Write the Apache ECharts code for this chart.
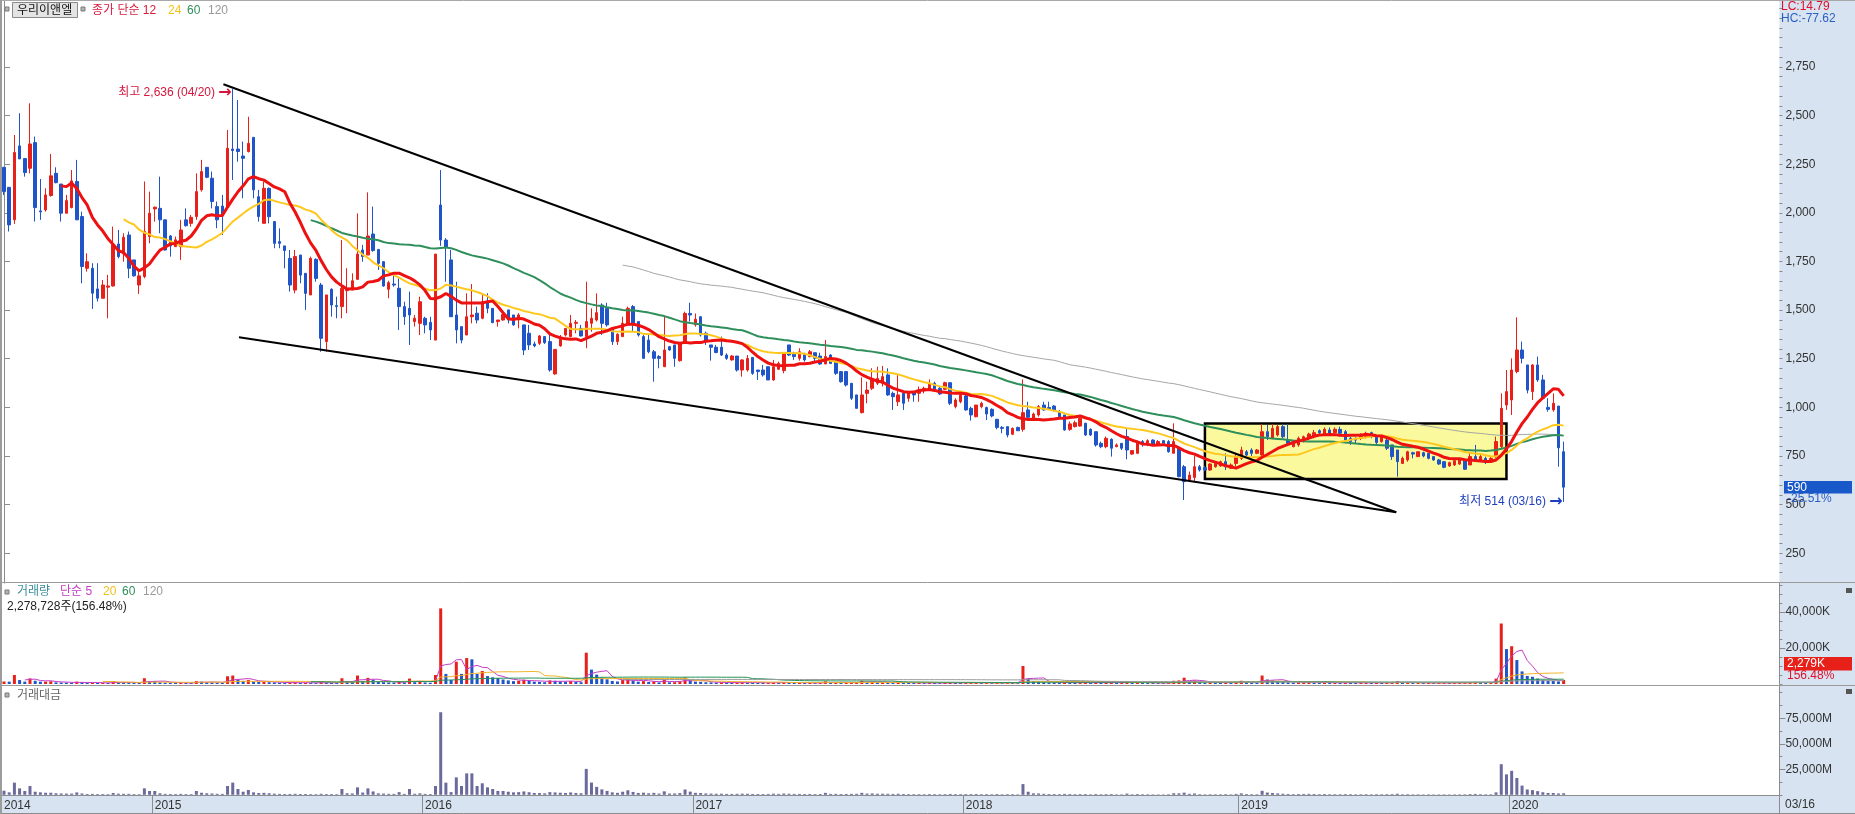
<!DOCTYPE html>
<html>
<head>
<meta charset="utf-8">
<script src="https://cdn.jsdelivr.net/npm/echarts@6/dist/echarts.min.js"></script>
<style>
html,body{margin:0;padding:0;background:#fff;}
#chart{width:1855px;height:814px;}
</style>
</head>
<body>
<div id="chart"></div>
<script>
// 우리이앤엘 주봉 (2014-06-16 ~ 2020-03-16)
const firstWeek = Date.UTC(2014, 5, 16);
const emptyWeeks = 41;          // blank space kept to the right of the last candle

// weekly candles: [open, high, low, close]
const candles = [
  [2234,2234,2092,2109],[2131,2131,1904,1938],[1964,2400,1943,2310],[2344,2512,2277,2277],[2279,2279,2186,2207],
  [2229,2563,2203,2354],[2361,2392,1955,2027],[2010,2174,1964,2005],[2015,2126,2006,2092],[2089,2303,2083,2190],
  [2203,2234,2152,2155],[2148,2148,1955,1998],[1998,2092,1998,2063],[2027,2220,2023,2164],[2161,2272,1964,1964],
  [1981,2006,1638,1724],[1715,1792,1698,1749],[1715,1741,1506,1587],[1609,1741,1544,1561],[1561,1655,1561,1629],
  [1618,1681,1458,1624],[1624,1929,1621,1835],[1840,1912,1766,1775],[1789,1895,1749,1874],[1886,1904,1664,1715],
  [1758,1758,1672,1676],[1629,1710,1583,1676],[1672,2161,1664,1904],[1878,2109,1844,1998],[2020,2032,1955,2029],
  [2023,2186,1895,1964],[1964,1964,1806,1809],[1881,1886,1775,1830],[1826,1878,1826,1861],[1826,1964,1758,1912],
  [1964,2023,1929,1934],[1946,1989,1929,1977],[1981,2203,1964,2109],[2118,2272,2109,2212],[2234,2234,2178,2183],
  [2178,2212,2023,2058],[2032,2058,1921,1964],[2035,2092,1886,1984],[2032,2426,2032,2332],[2328,2636,2169,2320],
  [2328,2580,2263,2315],[2292,2366,2075,2280],[2315,2494,2310,2357],[2388,2388,2075,2118],[2083,2118,1955,1981],
  [1946,2160,1946,2126],[2126,2130,1946,1980],[1955,1958,1818,1843],[1852,1920,1818,1843],[1830,1830,1715,1806],
  [1766,1809,1595,1629],[1603,1809,1586,1775],[1783,1783,1638,1680],[1689,1689,1501,1586],[1578,1775,1578,1766],
  [1761,1766,1646,1663],[1629,1640,1286,1355],[1338,1578,1286,1578],[1607,1612,1466,1526],[1523,1569,1458,1518],
  [1518,1860,1458,1612],[1600,1715,1484,1612],[1603,1689,1603,1651],[1658,1997,1658,1788],[1809,1835,1749,1775],
  [1783,2105,1783,1881],[1891,2032,1800,1806],[1812,1812,1706,1740],[1749,1749,1620,1624],[1607,1651,1561,1641],
  [1634,1689,1620,1629],[1612,1663,1398,1518],[1518,1543,1424,1466],[1509,1595,1321,1475],[1441,1475,1415,1458],
  [1432,1569,1372,1543],[1458,1466,1381,1424],[1437,1466,1346,1398],[1346,1788,1346,1788],[2040,2220,1830,1860],
  [1860,1870,1646,1823],[1758,1809,1466,1466],[1475,1646,1329,1398],[1415,1415,1329,1346],[1372,1586,1372,1466],
  [1466,1634,1432,1475],[1484,1518,1432,1449],[1458,1586,1453,1543],[1543,1586,1484,1509],[1509,1509,1432,1436],
  [1441,1449,1415,1449],[1449,1492,1446,1478],[1501,1501,1432,1449],[1475,1475,1420,1424],[1449,1484,1406,1475],
  [1424,1424,1269,1295],[1381,1424,1295,1321],[1326,1338,1309,1316],[1329,1372,1321,1367],[1364,1364,1326,1333],
  [1338,1381,1184,1192],[1172,1298,1167,1298],[1316,1372,1312,1350],[1372,1406,1364,1406],[1364,1475,1360,1432],
  [1432,1449,1381,1437],[1406,1424,1364,1367],[1364,1646,1304,1441],[1432,1509,1389,1458],[1449,1586,1441,1487],
  [1526,1535,1372,1432],[1509,1538,1415,1424],[1406,1406,1321,1338],[1338,1381,1321,1376],[1364,1466,1364,1432],
  [1423,1518,1423,1509],[1518,1526,1389,1432],[1441,1441,1364,1372],[1364,1372,1252,1252],[1346,1372,1278,1286],
  [1286,1295,1132,1252],[1261,1269,1201,1252],[1209,1466,1209,1295],[1312,1316,1291,1295],[1321,1321,1209,1252],
  [1240,1329,1235,1329],[1338,1492,1333,1483],[1483,1538,1441,1475],[1424,1483,1415,1453],[1466,1466,1364,1372],
  [1381,1389,1321,1338],[1321,1321,1240,1309],[1309,1321,1278,1282],[1309,1364,1264,1269],[1269,1278,1244,1252],
  [1244,1269,1240,1264],[1264,1264,1184,1192],[1192,1247,1158,1244],[1192,1269,1184,1252],[1257,1257,1167,1175],
  [1192,1192,1141,1184],[1192,1218,1158,1167],[1209,1209,1141,1141],[1141,1244,1137,1209],[1196,1235,1192,1226],
  [1189,1278,1175,1278],[1321,1321,1264,1269],[1278,1286,1244,1261],[1252,1304,1240,1286],[1278,1278,1235,1244],
  [1261,1295,1257,1286],[1281,1281,1230,1252],[1264,1281,1218,1223],[1223,1346,1223,1261],[1269,1274,1223,1226],
  [1235,1240,1167,1175],[1184,1184,1127,1132],[1184,1184,1107,1115],[1124,1124,1038,1047],[1064,1064,995,995],
  [973,1154,969,1064],[1072,1132,1021,1089],[1098,1201,1089,1149],[1124,1209,1115,1149],[1124,1213,1107,1158],
  [1167,1201,1059,1064],[1072,1081,987,1055],[1029,1166,1007,1064],[1072,1072,987,1021],[1047,1081,1029,1072],
  [1076,1081,1029,1064],[1072,1107,1029,1089],[1086,1107,1072,1098],[1093,1144,1089,1120],[1124,1132,1089,1093],
  [1098,1107,1064,1069],[1093,1132,1089,1127],[1127,1127,1012,1021],[1004,1047,995,1038],[1029,1072,1021,1064],
  [1059,1064,983,987],[995,1004,932,961],[952,1012,949,1012],[1004,1029,995,1021],[999,1004,935,966],
  [990,995,949,956],[939,939,887,897],[897,904,867,892],[901,901,846,858],[862,897,858,892],
  [897,901,880,880],[887,1144,875,973],[987,1029,944,949],[944,973,935,966],[961,1012,952,1004],
  [1012,1029,983,987],[1000,1029,987,992],[1007,1012,978,987],[978,987,949,952],[961,961,880,884],
  [887,927,880,915],[901,932,897,921],[904,949,901,944],[918,921,853,858],[887,892,853,858],
  [875,875,798,807],[815,824,790,798],[798,850,790,841],[836,841,747,790],[798,815,795,807],
  [815,815,781,790],[850,892,733,781],[760,781,755,778],[764,829,760,824],[824,832,798,815],
  [815,836,801,829],[832,836,801,807],[807,832,803,824],[829,832,803,815],[824,832,767,772],
  [764,918,764,824],[790,790,640,644],[695,704,524,618],[627,670,618,652],[640,752,613,695],
  [695,704,670,678],[690,699,672,678],[678,712,675,709],[695,718,690,712],[699,726,695,721],
  [721,764,678,695],[687,712,683,704],[712,764,695,747],[738,798,730,781],[772,781,750,755],
  [781,790,750,764],[764,786,760,781],[755,915,747,875],[875,910,832,849],[841,915,836,892],
  [858,910,850,901],[901,915,841,849],[832,915,807,815],[798,832,795,824],[807,850,798,841],
  [824,855,820,849],[841,870,832,863],[850,884,841,870],[880,887,863,870],[863,897,858,887],
  [884,897,856,863],[870,897,863,887],[887,901,850,867],[875,884,824,832],[841,850,807,824],
  [841,846,815,832],[841,867,832,858],[846,875,841,867],[870,875,841,850],[850,853,812,819],
  [824,850,819,846],[832,841,781,790],[807,807,730,747],[781,781,644,721],[712,747,709,738],
  [730,777,721,772],[767,772,738,760],[747,772,747,772],[767,772,743,750],[764,767,733,738],
  [747,750,725,730],[730,735,704,709],[721,721,687,692],[699,721,695,716],[704,730,699,726],
  [709,738,704,730],[730,730,678,682],[704,764,704,747],[747,807,721,730],[730,760,721,747],
  [738,747,709,716],[721,747,716,738],[747,850,738,824],[798,1072,790,995],[1012,1192,987,1081],
  [1038,1252,961,1192],[1184,1463,1175,1295],[1295,1338,1226,1252],[1218,1218,1072,1089],[1081,1222,1038,1218],
  [1218,1261,1132,1141],[1141,1167,1038,1047],[1000,1047,978,990],[987,1072,978,1021],[1007,1007,695,792],
  [772,824,514,590]
];

// weekly volume, thousand shares
const volumesK = [
  1400,1300,5000,2200,1300,3100,1800,1300,1350,1500,
  900,800,750,700,1300,900,650,700,600,620,
  580,1500,900,800,750,600,550,3200,1600,1500,
  1000,700,650,600,750,550,520,1600,1300,1000,
  850,700,650,4300,4700,2400,1700,2300,1400,1100,
  1300,1000,850,700,650,700,850,650,700,550,
  500,1000,700,650,550,3200,1300,1100,4700,1700,
  3400,2400,1100,1000,850,800,1500,850,3000,1000,
  1300,850,700,5000,42000,5600,2300,12400,5600,14400,
  13700,5600,7200,4400,3700,3300,2500,2000,1600,1800,
  2400,1900,1300,1200,1000,2000,1800,1500,1300,1600,
  1200,1000,17400,8000,5200,3600,2600,1700,1400,2200,
  3000,1900,1300,1600,1100,1500,900,2600,950,1000,
  1300,3600,2100,1300,1200,950,900,800,850,700,
  650,800,900,850,700,650,600,700,900,750,
  1000,800,650,700,600,650,550,600,1500,700,
  800,700,750,900,1000,1800,1100,1200,900,950,
  900,800,1000,700,600,550,600,500,650,550,
  500,600,800,650,600,700,750,800,600,650,
  550,800,600,700,650,500,10000,3000,1500,1300,
  1000,800,700,650,1000,800,700,750,800,600,
  900,700,800,900,550,600,1500,700,900,650,
  600,550,500,480,700,1800,2000,3500,1500,2000,
  900,700,800,750,700,900,650,1200,1800,900,
  800,700,4700,2500,2000,1500,1200,1000,800,900,
  1000,1100,900,700,800,650,700,650,800,700,
  600,650,700,600,700,650,800,900,1500,700,
  800,600,650,550,600,500,600,650,550,600,
  650,700,1000,1200,800,700,750,3000,33600,19400,
  21000,13300,7000,4500,4000,3000,2300,1800,1700,1456.242,
  2278.728
];

// weekly trading value, million won
const tradeValuesM = [
  4000,2400,11900,6300,3700,8600,3000,2400,2000,2000,
  1500,1300,1200,1200,2300,1300,800,900,700,700,
  650,1800,1100,1000,950,700,600,6300,3700,3700,
  1500,900,800,700,950,700,650,3700,2000,1500,
  1300,1000,900,8600,11900,5700,3000,4700,2400,1700,
  1900,1500,1100,900,800,850,1000,800,800,650,
  600,1000,700,700,600,5700,1500,1300,7300,2200,
  6300,3300,1400,1200,950,900,2600,900,5700,1000,
  1400,900,700,8600,80900,11900,2600,17100,8600,21000,
  21000,8600,11300,7300,5700,3800,3700,3000,2400,2600,
  3300,2500,1800,1700,1400,2600,2300,2000,1800,2300,
  1800,1500,25400,12000,7800,5300,3800,2400,1900,3000,
  4400,2800,1800,2100,1450,1900,1200,3400,1250,1300,
  1650,5200,3100,1900,1700,1300,1200,1050,1100,900,
  850,1000,1100,1050,850,800,750,850,1100,900,
  1250,1050,850,900,750,850,700,750,1900,900,
  950,800,850,950,1000,1900,1200,1350,1050,1100,
  1000,850,1050,750,650,600,650,550,700,600,
  550,650,850,650,650,700,700,800,600,650,
  550,720,540,620,580,450,10500,3000,1450,1300,
  1000,800,700,640,900,720,640,700,700,520,
  750,560,650,720,440,480,1200,540,720,530,
  500,450,410,390,550,1500,1400,2100,950,1300,
  620,480,560,530,500,640,460,870,1380,690,
  620,550,3900,2200,1750,1350,1030,830,650,740,
  840,940,790,610,700,560,610,560,680,580,
  500,550,600,520,580,550,650,690,1050,510,
  600,460,490,410,450,370,430,450,390,430,
  470,500,720,880,590,510,550,2350,30000,20000,
  23500,16500,9000,5200,4600,3600,2500,1800,1750,1300,
  1500
];

// right-axis tick values
const priceTicks = [250, 500, 750, 1000, 1250, 1500, 1750, 2000, 2250, 2500, 2750];
const volumeTicksK = [20000, 40000];
const valueTicksM = [25000, 50000, 75000];

// moving-average periods
const priceMAs = [12, 24, 60, 120];
const volumeMAs = [5, 20, 60, 120];

// drawn annotations: [week index, price] end points
const trendLines = [
  [[42.2, 2661], [267.8, 461]],
  [[45.2, 1360], [267.8, 461]]
];
// highlighted consolidation box: first / last week index, top / bottom price
const boxWeeks = [231, 289];
const boxPrices = [917, 632];

const UP = '#e8201a', DOWN = '#1f55c8';
const FONT = '"Liberation Sans", "Noto Sans CJK KR", sans-serif';

// ---- derived helpers ----
const dayMs = 86400000;
const totalSlots = candles.length + emptyWeeks;
const weeks = [];
for (let i = 0; i < totalSlots; i++) {
  weeks.push(new Date(firstWeek + i * 7 * dayMs).toISOString().slice(0, 10));
}
const isYearStart = i => i === 0 || weeks[i].slice(0, 4) !== weeks[i - 1].slice(0, 4);
const fmt = v => Math.round(v).toLocaleString('en-US');

function sma(arr, n) {
  return arr.map((_, i) => {
    if (i < n - 1) return '-';
    let s = 0;
    for (let j = i - n + 1; j <= i; j++) s += arr[j];
    return +(s / n).toFixed(2);
  });
}

const closes = candles.map(c => c[3]);
const last = candles.length - 1;
let hiIdx = 0, loIdx = 0;
candles.forEach((c, i) => {
  if (c[1] > candles[hiIdx][1]) hiIdx = i;
  if (c[2] < candles[loIdx][2]) loIdx = i;
});
const hiVal = candles[hiIdx][1], loVal = candles[loIdx][2];
const lastClose = closes[last];
const chg = (lastClose / closes[last - 1] - 1) * 100;
const lc = (lastClose / loVal - 1) * 100;
const hc = (lastClose / hiVal - 1) * 100;
const lastVol = volumesK[last];
const volPct = lastVol / volumesK[last - 1] * 100;
const mmdd = i => weeks[i].slice(5).replace('-', '/');

const maColors = { 12: '#ee1111', 24: '#ffc81e', 60: '#2f8f5b', 120: '#a6a6a6' };
const maWidths = { 12: 3, 24: 2, 60: 2, 120: 1 };
const vmaColors = { 5: '#c63cc6', 20: '#f0b428', 60: '#23935a', 120: '#9a9a9a' };

const volumeData = volumesK.map((v, i) => ({
  value: v,
  itemStyle: { color: (i === 0 || v >= volumesK[i - 1]) ? UP : DOWN }
}));

const grids = [
  { left: 1.4, top: 1, width: 1778, height: 582, show: false },
  { left: 1.4, top: 583, width: 1778, height: 101, show: false },
  { left: 1.4, top: 685.7, width: 1778, height: 109.1, show: false }
];

function catAxis(gi, showLabels) {
  return {
    type: 'category', gridIndex: gi, data: weeks, boundaryGap: true,
    axisLine: { show: showLabels, lineStyle: { color: '#8c8c8c' } },
    axisTick: showLabels ? {
      show: true, interval: (i) => isYearStart(i), length: 19, alignWithLabel: false,
      lineStyle: { color: '#8c8c8c' }
    } : { show: false },
    axisLabel: showLabels ? {
      show: true, interval: (i) => isYearStart(i), align: 'left', margin: 5,
      color: '#333', fontSize: 12, fontFamily: FONT,
      formatter: (v) => v.slice(0, 4)
    } : { show: false },
    splitLine: { show: false }
  };
}

function rightAxis(gi, min, max, labelVals, suffix) {
  return {
    type: 'value', gridIndex: gi, position: 'right', min, max,
    splitLine: { show: false },
    axisLine: { show: true, lineStyle: { color: '#8c8c8c' } },
    axisTick: { show: true, customValues: labelVals, length: 6, lineStyle: { color: '#8c8c8c' } },
    axisLabel: {
      show: true, customValues: labelVals, color: '#333', fontSize: 12, fontFamily: FONT, margin: 6,
      formatter: v => fmt(v) + suffix
    }
  };
}
function minorAxis(gi, min, max, step) {
  const vals = [];
  for (let v = Math.ceil(min / step) * step; v <= max; v += step) vals.push(v);
  return {
    type: 'value', gridIndex: gi, position: 'right', min, max,
    splitLine: { show: false }, axisLine: { show: false },
    axisTick: { show: true, customValues: vals, length: 3, lineStyle: { color: '#8c8c8c' } },
    axisLabel: { show: false }
  };
}

const series = [];
// consolidation box
series.push({
  type: 'line', xAxisIndex: 0, yAxisIndex: 0, data: [], z: 1, silent: true,
  markArea: {
    silent: true,
    itemStyle: { color: '#fbf99e', borderColor: '#000', borderWidth: 2.5 },
    data: [[{ coord: [weeks[boxWeeks[0]], boxPrices[0]] }, { coord: [weeks[boxWeeks[1]], boxPrices[1]] }]]
  }
});
// candles with high / low notes
series.push({
  type: 'candlestick', xAxisIndex: 0, yAxisIndex: 0, z: 2, barWidth: 3,
  data: candles.map(c => [c[0], c[3], c[2], c[1]]),
  itemStyle: { color: UP, color0: DOWN, borderColor: UP, borderColor0: DOWN, borderWidth: 1 },
  markPoint: {
    symbol: 'circle', symbolSize: 0, silent: true,
    data: [
      {
        coord: [weeks[hiIdx], hiVal],
        label: {
          show: true, position: 'left', distance: 1, offset: [0, 4],
          formatter: `{t|최고 ${fmt(hiVal)} (${mmdd(hiIdx)})} {a|→}`,
          rich: {
            t: { color: '#d4163c', fontSize: 12, fontFamily: FONT },
            a: { color: '#d4163c', fontSize: 16, fontWeight: 'bold', fontFamily: '"DejaVu Sans"' }
          }
        }
      },
      {
        coord: [weeks[loIdx], loVal],
        label: {
          show: true, position: 'left', distance: 1, offset: [0, 0],
          formatter: `{t|최저 ${fmt(loVal)} (${mmdd(loIdx)})} {a|→}`,
          rich: {
            t: { color: '#1f3fbf', fontSize: 12, fontFamily: FONT },
            a: { color: '#1f3fbf', fontSize: 16, fontWeight: 'bold', fontFamily: '"DejaVu Sans"' }
          }
        }
      }
    ]
  }
});
// price moving averages (long to short so the 12-week line is on top)
const maSeriesIndex = {};
[120, 60, 24, 12].forEach((n, k) => {
  maSeriesIndex[n] = series.length;
  series.push({
    type: 'line', xAxisIndex: 0, yAxisIndex: 0, z: 3 + k, silent: true,
    data: sma(closes, n), showSymbol: false, symbol: 'none',
    lineStyle: { color: maColors[n], width: maWidths[n] }
  });
});
// trend lines
trendLines.forEach(tl => {
  series.push({
    type: 'line', xAxisIndex: 3, yAxisIndex: 0, z: 8, silent: true,
    data: tl, showSymbol: false, symbol: 'none',
    lineStyle: { color: '#000', width: 2 }
  });
});
// volume
series.push({
  type: 'bar', xAxisIndex: 1, yAxisIndex: 2, barWidth: 3, data: volumeData, silent: true
});
volumeMAs.forEach(n => {
  series.push({
    type: 'line', xAxisIndex: 1, yAxisIndex: 2, silent: true, z: 3,
    data: sma(volumesK, n), showSymbol: false, symbol: 'none',
    lineStyle: { color: vmaColors[n], width: 1 }
  });
});
// trading value
series.push({
  type: 'bar', xAxisIndex: 2, yAxisIndex: 4, barWidth: 3, silent: true,
  data: tradeValuesM, itemStyle: { color: '#6a6a9c' }
});

const T = (x, y, text, color, extra) => Object.assign({
  type: 'text', x, y, z: 60,
  style: Object.assign({ text, fill: color, font: `12px ${FONT}`, textVerticalAlign: 'middle' }, extra || {})
});
const icon = (x, y) => ({ type: 'rect', z: 60, shape: { x, y, width: 4, height: 4 }, style: { fill: '#b4b4b4', stroke: '#7a7a7a', lineWidth: 1 } });
const hline = (y, x1, x2, color) => ({ type: 'line', z: 70, shape: { x1, y1: y, x2, y2: y }, style: { stroke: color || '#9a9a9a', lineWidth: 1 } });
const vline = (x, y1, y2, color, w) => ({ type: 'line', z: 70, shape: { x1: x, y1, x2: x, y2 }, style: { stroke: color || '#9a9a9a', lineWidth: w || 1 } });
const closeBox = (x, y) => ({ type: 'rect', z: 60, shape: { x, y, width: 6, height: 5 }, style: { fill: '#555' } });

const graphics = [
  // axis strips
  { type: 'rect', z: -1, shape: { x: 1779.4, y: 0, width: 76, height: 814 }, style: { fill: '#d7e3f0' } },
  { type: 'rect', z: -1, shape: { x: 0, y: 795, width: 1780, height: 19 }, style: { fill: '#d7e3f0' } },
  // panel frames
  hline(0.5, 0, 1855, '#a8a8a8'),
  hline(582.5, 0, 1855), hline(685.5, 0, 1855),
  hline(813.5, 0, 1855, '#8c8c8c'),
  vline(1, 0, 814, '#9c9c9c', 2),
  vline(1779.5, 795, 814, '#8c8c8c'),
  // main panel header
  icon(5, 7),
  { type: 'rect', z: 60, shape: { x: 12.5, y: 2.5, width: 65, height: 15 }, style: { fill: '#e4e4e4', stroke: '#8a8a8a', lineWidth: 1 } },
  T(17, 10.5, '우리이앤엘', '#111'),
  icon(81, 7),
  T(92, 10.5, '종가 단순 12', '#d81c3c'),
  T(168, 10.5, '24', '#f2c21b'),
  T(187, 10.5, '60', '#2f8f5b'),
  T(208, 10.5, '120', '#9a9a9a'),
  // volume panel header
  icon(5, 590),
  T(17, 592, '거래량', '#3a8d9c'),
  T(60, 592, '단순 5', '#c63cc6'),
  T(103, 592, '20', '#f0c020'),
  T(122, 592, '60', '#2f8f5b'),
  T(143, 592, '120', '#9a9a9a'),
  T(7, 606.5, `${fmt(lastVol * 1000)}주(${volPct.toFixed(2)}%)`, '#222'),
  // trading value panel header
  icon(5, 693),
  T(17, 695.5, '거래대금', '#666'),
  // right strip readouts
  T(1781, 6.5, `LC:${lc.toFixed(2)}`, '#e0102a'),
  T(1781, 18.5, `HC:${hc.toFixed(2)}`, '#2a5fc4'),
  { type: 'rect', z: 60, shape: { x: 1784, y: 481, width: 68, height: 12.5 }, style: { fill: '#1858c8' } },
  T(1787, 487.5, fmt(lastClose), '#fff'),
  T(1787, 499, `${chg.toFixed(2)}%`, '#2a5fc4'),
  { type: 'rect', z: 60, shape: { x: 1784, y: 657, width: 68, height: 13.5 }, style: { fill: '#e8201a' } },
  T(1787, 664, `${fmt(lastVol)}K`, '#fff'),
  T(1787, 676, `${volPct.toFixed(2)}%`, '#e0102a'),
  T(1785, 804.5, mmdd(last), '#333'),
  closeBox(1846, 588), closeBox(1846, 689)
];

const option = {
  animation: false,
  backgroundColor: '#fff',
  textStyle: { fontFamily: FONT },
  grid: grids,
  xAxis: [
    catAxis(0, false), catAxis(1, false), catAxis(2, true),
    { type: 'value', gridIndex: 0, min: -0.5, max: totalSlots - 0.5, show: false }
  ],
  yAxis: [
    rightAxis(0, 97.3, 3088.8, priceTicks, ''),
    minorAxis(0, 97.3, 3088.8, 50),
    rightAxis(1, 0, 56100, volumeTicksK, 'K'),
    minorAxis(1, 0, 56100, 5000),
    rightAxis(2, 0, 106900, valueTicksM, 'M'),
    minorAxis(2, 0, 106900, 12500)
  ],
  visualMap: [
    {
      type: 'piecewise', show: false, seriesIndex: maSeriesIndex[12], dimension: 0,
      pieces: [
        { lt: boxWeeks[0], color: maColors[12] },
        { gte: boxWeeks[0], lte: boxWeeks[1], color: '#ee2a66' },
        { gt: boxWeeks[1], color: maColors[12] }
      ]
    },
    {
      type: 'piecewise', show: false, seriesIndex: maSeriesIndex[24], dimension: 0,
      pieces: [
        { lt: boxWeeks[0], color: maColors[24] },
        { gte: boxWeeks[0], lte: boxWeeks[1], color: '#f2c27e' },
        { gt: boxWeeks[1], color: maColors[24] }
      ]
    }
  ],
  series,
  graphic: { elements: graphics }
};

const chart = echarts.init(document.getElementById('chart'), null, { renderer: 'canvas' });
chart.setOption(option);
</script>
</body>
</html>
